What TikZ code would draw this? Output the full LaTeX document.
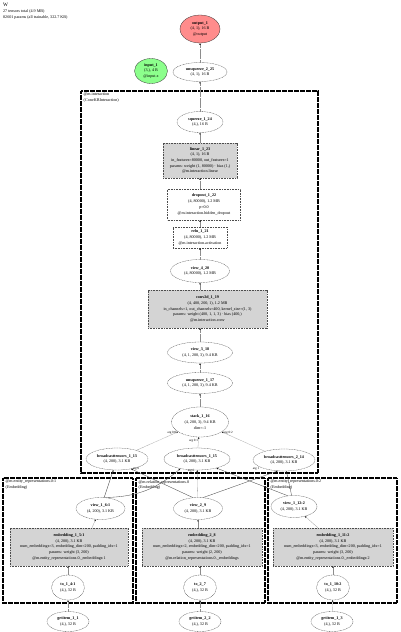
\documentclass[tikz,border=0pt]{standalone}
\usepackage{fontspec}
\setmainfont{Liberation Serif}
\usetikzlibrary{shapes.geometric,arrows.meta}
\newcommand{\zl}[1]{\makebox[0pt]{#1}}
\begin{document}
\begin{tikzpicture}[x=1pt,y=-1pt,
  font=\fontsize{4.1}{5.7}\selectfont,
  base/.style={inner sep=0pt, align=center, line width=0.3pt},
  ell/.style={base, ellipse, draw=black!70, dash pattern=on 1pt off 0.6pt},
  solidell/.style={base, ellipse, draw=black!80},
  boxw/.style={base, rectangle, draw=black!70, dash pattern=on 1pt off 0.6pt},
  boxg/.style={boxw, fill=black!17},
  clus/.style={draw=black, line width=1.5pt, dash pattern=on 0.7pt off 0.5pt},
  clab/.style={inner sep=0pt, anchor=north west, align=left},
  edge/.style={draw=black!45, line width=0.35pt, dash pattern=on 0.6pt off 0.5pt,
    -{Stealth[length=1.8pt,width=1.5pt,black]}},
  sedge/.style={draw=black!70, line width=0.35pt, -{Stealth[length=1.8pt,width=1.5pt,black]}},
  elab/.style={inner sep=0.3pt, font=\fontsize{3.2}{4}\selectfont}
]
\useasboundingbox (0,0) rectangle (400,632);
\fill[white] (0,0) rectangle (400,632);

% title
\node[clab] (title) at (3,3) {\fontsize{5.2}{5.6}\selectfont W\\27 tensors total (4.9 MB)\\82601 params (all trainable, 322.7 KB)};

% clusters
\draw[clus] (81,91) rectangle (318,473);
\node[clab] (cl0) at (83.5,93) {@m.interaction\\(ConvKBInteraction)};
\draw[clus] (3,478) rectangle (133,603);
\node[clab] (cl1) at (5.5,480) {@m.entity\_representations.0:1\\(Embedding)};
\draw[clus] (136,478) rectangle (265,603);
\node[clab] (cl2) at (138.5,480) {@m.relation\_representations.0\\(Embedding)};
\draw[clus] (268,478) rectangle (397,603);
\node[clab] (cl3) at (270.5,480) {@m.entity\_representations.0:2\\(Embedding)};

% top nodes
\node[solidell, fill=red!45, minimum width=40pt, minimum height=28pt] (out) at (200,29)
  {\zl{\textbf{output\_1}}\\\zl{(4, 1), 16 B}\\\zl{@output}};
\node[solidell, fill=green!45!white, minimum width=33pt, minimum height=25pt] (inp) at (151,71)
  {\zl{\textbf{input\_1}}\\\zl{(3,), 4 B}\\\zl{@input.x}};
\node[ell, minimum width=54pt, minimum height=19pt] (u225) at (200,72)
  {\zl{\textbf{unsqueeze\_2\_25}}\\\zl{(4, 1), 16 B}};

% interaction column
\node[ell, minimum width=46pt, minimum height=21pt] (sq) at (200,122)
  {\zl{\textbf{squeeze\_1\_24}}\\\zl{(4,), 16 B}};
\node[boxg, minimum width=74pt, minimum height=35pt] (lin) at (200,160.5)
  {\zl{\textbf{linear\_1\_23}}\\\zl{(4, 1), 16 B}\\\zl{in\_features=80000, out\_features=1}\\\zl{params: weight (1, 80000) · bias (1,)}\\\zl{@m.interaction.linear}};
\node[boxw, minimum width=73pt, minimum height=31pt] (drop) at (204,204.5)
  {\zl{\textbf{dropout\_1\_22}}\\\zl{(4, 80000), 1.2 MB}\\\zl{p=0.0}\\\zl{@m.interaction.hidden\_dropout}};
\node[boxw, minimum width=54pt, minimum height=21pt] (relu) at (200,237.5)
  {\zl{\textbf{relu\_1\_21}}\\\zl{(4, 80000), 1.2 MB}\\\zl{@m.interaction.activation}};
\node[ell, minimum width=59pt, minimum height=23pt] (v420) at (200,271)
  {\zl{\textbf{view\_4\_20}}\\\zl{(4, 80000), 1.2 MB}};
\node[boxg, minimum width=119pt, minimum height=38pt] (conv) at (207.5,309)
  {\zl{\textbf{conv2d\_1\_19}}\\\zl{(4, 400, 200, 1), 1.2 MB}\\\zl{in\_channels=1, out\_channels=400, kernel\_size=(1, 3)}\\\zl{params: weight (400, 1, 1, 3) · bias (400,)}\\\zl{@m.interaction.conv}};
\node[ell, minimum width=65pt, minimum height=21pt] (v318) at (200,352.5)
  {\zl{\textbf{view\_3\_18}}\\\zl{(4, 1, 200, 3), 9.4 KB}};
\node[ell, minimum width=65pt, minimum height=21pt] (u117) at (200,383)
  {\zl{\textbf{unsqueeze\_1\_17}}\\\zl{(4, 1, 200, 3), 9.4 KB}};
\node[ell, minimum width=57pt, minimum height=30pt] (stk) at (200,422)
  {\zl{\textbf{stack\_1\_16}}\\\zl{(4, 200, 3), 9.4 KB}\\\zl{dim=-1}};
\node[ell, minimum width=62pt, minimum height=22pt] (b13) at (117,459)
  {\zl{\textbf{broadcasttensors\_1\_13}}\\\zl{(4, 200), 3.1 KB}};
\node[ell, minimum width=66pt, minimum height=22pt] (b15) at (197,459)
  {\zl{\textbf{broadcasttensors\_1\_15}}\\\zl{(4, 200), 3.1 KB}};
\node[ell, minimum width=62pt, minimum height=22pt] (b14) at (284,460)
  {\zl{\textbf{broadcasttensors\_2\_14}}\\\zl{(4, 200), 3.1 KB}};

% embedding columns
\node[ell, minimum width=49pt, minimum height=22pt] (v1) at (100.5,508.5)
  {\zl{\textbf{view\_1\_6:1}}\\\zl{(4, 200), 3.1 KB}};
\node[ell, minimum width=49pt, minimum height=22pt] (v2) at (198,508.5)
  {\zl{\textbf{view\_2\_9}}\\\zl{(4, 200), 3.1 KB}};
\node[ell, minimum width=46pt, minimum height=22pt] (v3) at (294,506.5)
  {\zl{\textbf{view\_1\_12:2}}\\\zl{(4, 200), 3.1 KB}};

\node[boxg, minimum width=118pt, minimum height=38pt] (e1) at (69,547)
  {\zl{\textbf{embedding\_1\_5:1}}\\\zl{(4, 200), 3.1 KB}\\\zl{num\_embeddings=3, embedding\_dim=200, padding\_idx=1}\\\zl{params: weight (3, 200)}\\\zl{@m.entity\_representations.0.\_embeddings:1}};
\node[boxg, minimum width=120pt, minimum height=38pt] (e2) at (202,547)
  {\zl{\textbf{embedding\_2\_8}}\\\zl{(4, 200), 3.1 KB}\\\zl{num\_embeddings=2, embedding\_dim=200, padding\_idx=1}\\\zl{params: weight (2, 200)}\\\zl{@m.relation\_representations.0.\_embeddings}};
\node[boxg, minimum width=120pt, minimum height=38pt] (e3) at (333,547)
  {\zl{\textbf{embedding\_1\_11:2}}\\\zl{(4, 200), 3.1 KB}\\\zl{num\_embeddings=3, embedding\_dim=200, padding\_idx=1}\\\zl{params: weight (3, 200)}\\\zl{@m.entity\_representations.0.\_embeddings:2}};

\node[ell, minimum width=33pt, minimum height=25pt] (t1) at (68,587.5)
  {\zl{\textbf{to\_1\_4:1}}\\\zl{(4,), 32 B}};
\node[ell, minimum width=33pt, minimum height=25pt] (t2) at (200,587.5)
  {\zl{\textbf{to\_2\_7}}\\\zl{(4,), 32 B}};
\node[ell, minimum width=33pt, minimum height=25pt] (t3) at (333,587.5)
  {\zl{\textbf{to\_1\_10:2}}\\\zl{(4,), 32 B}};

\node[ell, minimum width=42pt, minimum height=20pt] (g1) at (68,621.5)
  {\zl{\textbf{getitem\_1\_1}}\\\zl{(4,), 32 B}};
\node[ell, minimum width=42pt, minimum height=20pt] (g2) at (200,621.5)
  {\zl{\textbf{getitem\_2\_2}}\\\zl{(4,), 32 B}};
\node[ell, minimum width=42pt, minimum height=20pt] (g3) at (332,621.5)
  {\zl{\textbf{getitem\_1\_3}}\\\zl{(4,), 32 B}};

% edges
\draw[edge] (g1) -- (t1);
\draw[edge] (g2) -- (t2);
\draw[edge] (g3) -- (t3);
\draw[edge] (t1) -- (t1 |- e1.south);
\draw[edge] (t2) -- (t2 |- e2.south);
\draw[edge] (t3) -- (t3 |- e3.south);
\draw[edge] (e1.north -| 92,0) -- (v1);
\draw[edge] (e2.north -| v2) -- (v2);
\draw[edge] (e3.north -| 318,0) -- (v3);

\draw[sedge] (v1) -- (b13);
\draw[sedge] (v1.70) to[bend right=20] (b15.-150);
\draw[edge] (v2) -- (b15);
\draw[sedge] (v2.115) -- (b13.-35);
\draw[sedge] (v2.65) -- (b14.-120);
\draw[sedge] (v3) -- (b14);
\draw[sedge] (v3.120) -- (b15.-25);

\node[elab] (la) at (136,468.5) {arg 0};
\node[elab] (lb) at (191,470.5) {arg 0};
\node[elab] (lc) at (256,469) {arg 1};

\draw[edge] (b13) -- node[elab, pos=0.85, above] (l0) {arg 0:0} (stk);
\draw[edge] (b15) -- node[elab, pos=0.7, left] (l1) {arg 0:1} (stk);
\draw[edge] (b14) -- node[elab, pos=0.85, above] (l2) {arg 0:2} (stk);

\draw[edge] (stk) -- (u117);
\draw[edge] (u117) -- (v318);
\draw[edge] (v318) -- (v318 |- conv.south);
\draw[edge] (v420 |- conv.north) -- (v420);
\draw[edge] (v420) -- (relu);
\draw[edge] (relu) -- (relu |- drop.south);
\draw[edge] (relu |- drop.north) -- (lin);
\draw[edge] (lin) -- (sq);
\draw[edge] (sq) -- (u225);
\draw[edge] (u225) -- (out);
\end{tikzpicture}
\end{document}
